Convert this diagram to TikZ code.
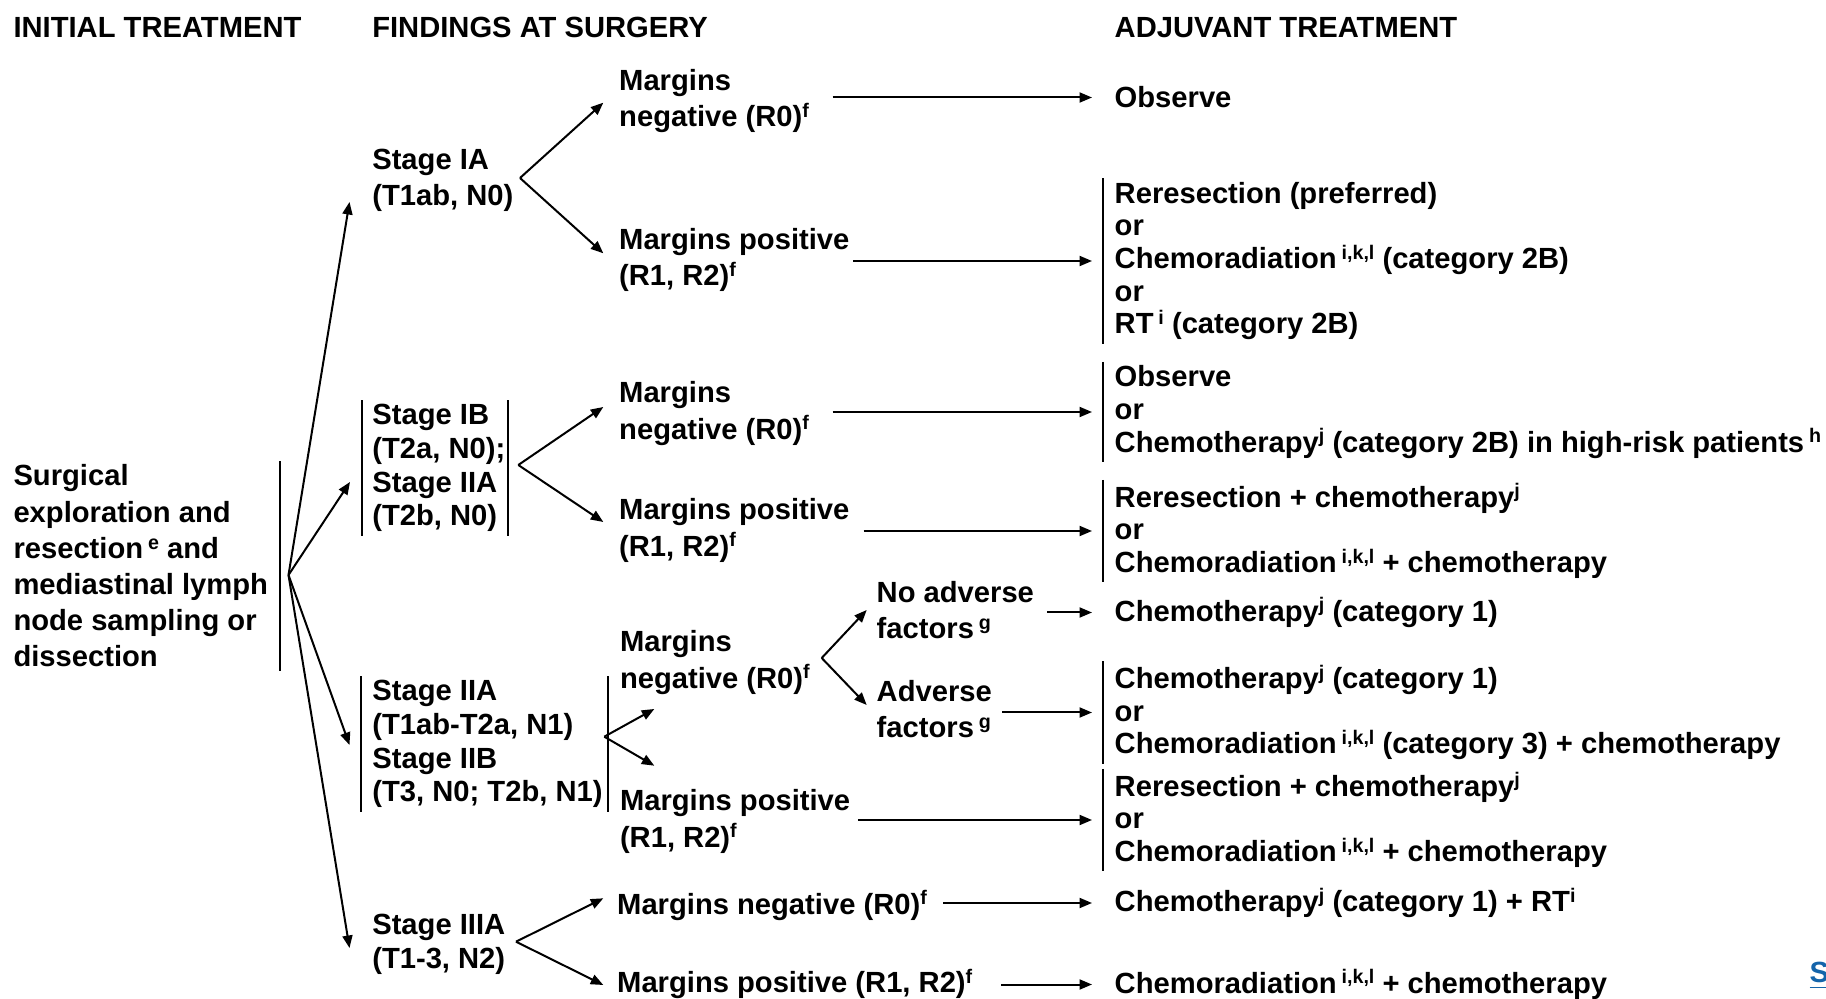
\documentclass[tikz,border=0pt]{standalone}
\usepackage{fontspec}
\setmainfont{Liberation Sans}
\usetikzlibrary{arrows.meta}
\definecolor{linkblue}{RGB}{20,100,170}
\newcommand{\ftn}[1]{\raisebox{0.6ex}{\fontsize{5.6}{5.6}\selectfont#1}}
\tikzset{
  lbl/.style={anchor=west,inner xsep=0pt,inner ysep=0.3mm,align=left,font=\bfseries\fontsize{8.3}{10.3}\selectfont},
  stg/.style={lbl,font=\bfseries\fontsize{8.3}{9.6}\selectfont},
  opt/.style={lbl,font=\bfseries\fontsize{8.3}{9.3}\selectfont},
  arr/.style={-{Triangle[length=1.25mm,width=1.0mm]},line width=0.2mm},
  hl/.style={arr,shorten <=#1,shorten >=2.2mm},
  bar/.style={line width=0.2mm}
}
\begin{document}
\begin{tikzpicture}[x=0.1mm,y=-0.1mm]
\useasboundingbox (0,0) rectangle (1826,999);
%headers
\node[lbl] (hInit) at (12.8,27.5) {INITIAL TREATMENT};
\node[lbl] (hFind) at (371.6,27.5) {FINDINGS AT SURGERY};
\node[lbl] (hAdj) at (1114,27.5) {ADJUVANT TREATMENT};
%initial treatment
\node[lbl] (surg) at (12.8,566) {Surgical\\exploration and\\resection\,\ftn{e} and\\mediastinal lymph\\node sampling or\\dissection};
%stages
\node[lbl] (stIA) at (371.6,180) {Stage IA\\(T1ab, N0)};
\node[stg] (stIB) at (371.7,468) {Stage IB\\(T2a, N0);\\Stage IIA\\(T2b, N0)};
\node[stg] (stII) at (371.7,744) {Stage IIA\\(T1ab-T2a, N1)\\Stage IIB\\(T3, N0; T2b, N1)};
\node[stg] (stIIIA) at (371.6,944) {Stage IIIA\\(T1-3, N2)};
%margins
\node[lbl] (negA) at (618.5,101) {Margins\\negative (R0)\ftn{f}};
\node[lbl] (posA) at (618.5,260) {Margins positive\\(R1, R2)\ftn{f}};
\node[lbl] (negB) at (618.5,413.5) {Margins\\negative (R0)\ftn{f}};
\node[lbl] (posB) at (618.5,530.5) {Margins positive\\(R1, R2)\ftn{f}};
\node[lbl] (negC) at (619.3,662.5) {Margins\\negative (R0)\ftn{f}};
\node[lbl] (posC) at (619.3,821.5) {Margins positive\\(R1, R2)\ftn{f}};
\node[lbl] (negD) at (616.5,905.5) {Margins negative (R0)\ftn{f}};
\node[lbl] (posD) at (616.5,984) {Margins positive (R1, R2)\ftn{f}};
\node[lbl] (noAdv) at (876,610) {No adverse\\factors\,\ftn{g}};
\node[lbl] (adv) at (876,709) {Adverse\\factors\,\ftn{g}};
%adjuvant treatment
\node[lbl] (trA) at (1114,97.5) {Observe};
\node[opt] (trB) at (1114,261) {Reresection (preferred)\\or\\Chemoradiation\,\ftn{i,k,l} (category 2B)\\or\\RT\,\ftn{i} (category 2B)};
\node[opt] (trC) at (1114,412) {Observe\\or\\Chemotherapy\ftn{j} (category 2B) in high-risk patients\,\ftn{h}};
\node[opt] (trD) at (1114,531) {Reresection + chemotherapy\ftn{j}\\or\\Chemoradiation\,\ftn{i,k,l} + chemotherapy};
\node[lbl] (trE) at (1114,612.5) {Chemotherapy\ftn{j} (category 1)};
\node[opt] (trF) at (1114,712.5) {Chemotherapy\ftn{j} (category 1)\\or\\Chemoradiation\,\ftn{i,k,l} (category 3) + chemotherapy};
\node[opt] (trG) at (1114,820) {Reresection + chemotherapy\ftn{j}\\or\\Chemoradiation\,\ftn{i,k,l} + chemotherapy};
\node[lbl] (trH) at (1114,903) {Chemotherapy\ftn{j} (category 1) + RT\ftn{i}};
\node[lbl] (trI) at (1114,984.5) {Chemoradiation\,\ftn{i,k,l} + chemotherapy};
\node[lbl,anchor=base west,text=linkblue] (see) at (1809,982) {\underline{S}};
%bars
\draw[bar] ([xshift=1.1mm]surg.north east) -- ([xshift=1.1mm]surg.south east);
\foreach \n/\lft/\rgt in {stIB/1.0mm/0.2mm,stII/1.07mm/0.43mm}{
  \draw[bar] ([xshift=-\lft]\n.north west) -- ([xshift=-\lft]\n.south west);
  \draw[bar] ([xshift=\rgt]\n.north east) -- ([xshift=\rgt]\n.south east);
}
\foreach \n in {trB,trC,trD,trF,trG}
  \draw[bar] ([xshift=-1.06mm]\n.north west) -- ([xshift=-1.06mm]\n.south west);
%fan points
\coordinate (fS) at (288.5,575);
\coordinate (tS1) at (349.5,202);
\coordinate (tS2) at (350,482);
\coordinate (tS3) at (349.5,745);
\coordinate (tS4) at (349.5,948);
\coordinate (fA) at (520,178);
\coordinate (tA1) at (603.3,102.7);
\coordinate (tA2) at (603.3,253.3);
\coordinate (fB) at (518.3,465);
\coordinate (tB1) at (603.3,407);
\coordinate (tB2) at (603.3,522);
\coordinate (fC) at (604.3,736.7);
\coordinate (tC1) at (654.3,709);
\coordinate (tC2) at (654.3,765.7);
\coordinate (fN) at (821.7,658);
\coordinate (tN1) at (866.7,610);
\coordinate (tN2) at (866.7,705);
\coordinate (fD) at (516,941.7);
\coordinate (tD1) at (603.3,898.3);
\coordinate (tD2) at (603.3,985);
%fans
\foreach \t in {tS1,tS2,tS3,tS4}
  \draw[arr] (fS) -- (\t);
\foreach \f in {A,B,C,N,D}{
  \draw[arr] (f\f) -- (t\f1);
  \draw[arr] (f\f) -- (t\f2);
}
%to adjuvant treatment
\draw[hl=2.3mm] (negA.east |- trA.west) -- (trA.west);
\draw[hl=0.3mm] (posA.east |- trB.west) -- (trB.west);
\draw[hl=2.3mm] (negB.east |- trC.west) -- (trC.west);
\draw[hl=1.35mm] (posB.east |- trD.west) -- (trD.west);
\draw[hl=1.25mm] (noAdv.east |- trE.west) -- (trE.west);
\draw[hl=0.95mm] (adv.east |- trF.west) -- (trF.west);
\draw[hl=0.7mm] (posC.east |- trG.west) -- (trG.west);
\draw[hl=1.55mm] (negD.east |- trH.west) -- (trH.west);
\draw[hl=2.85mm] (posD.east |- trI.west) -- (trI.west);
\end{tikzpicture}
\end{document}
